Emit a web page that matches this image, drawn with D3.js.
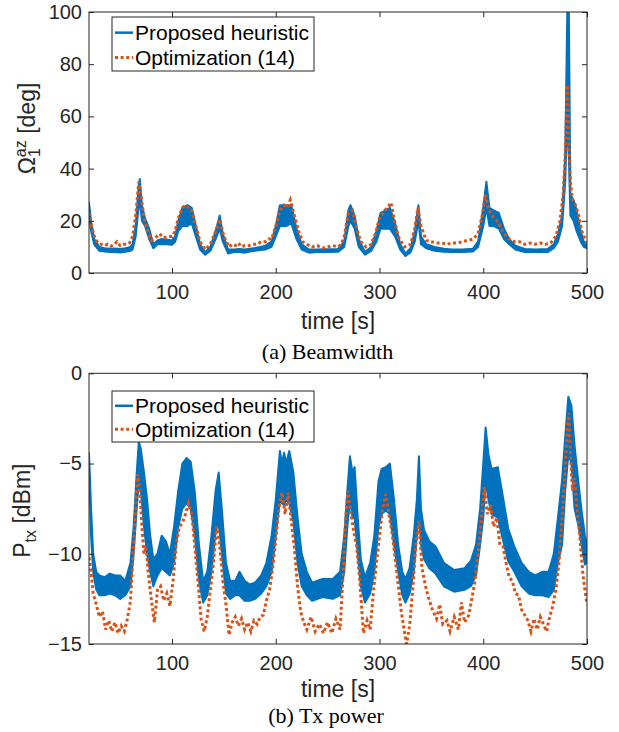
<!DOCTYPE html>
<html><head><meta charset="utf-8">
<script src="https://cdn.jsdelivr.net/npm/d3@7"></script>
<style>body{margin:0;background:#fff} svg{display:block}</style>
</head><body>
<svg id="chart" width="619" height="732"></svg>
<script>
// ---------------- data ----------------
const xTickValues = [100, 200, 300, 400, 500];
const beamYTicks = [0, 20, 40, 60, 80, 100];
const powerYTicks = [0, -5, -10, -15];
const seriesNames = ["Proposed heuristic", "Optimization (14)"];
const captions = ["(a) Beamwidth", "(b) Tx power"];

// Beamwidth, heuristic: [time, upper envelope, lower envelope]
const beamHeuristic = [
[20,27,22],[22,20,16],[25,13,11],[30,10,8.5],[35,9.5,8.2],[40,9.3,8],[45,9.4,8],[50,9.2,7.9],[55,9.5,8.1],[60,10,8.5],
[62,11,9],[65,18,14],[68,34,26],[69,36,28],[71,26,20],[74,21,18],[78,17,13],[82,11,9.5],[86,12.5,11],[90,13,11],
[95,12.8,11],[100,12.5,10.8],[103,14,12],[106,20,16],[110,25,18],[115,26,18],[119,25,19],[123,18,14],[127,11,9],[132,8,7],
[137,10,8.5],[142,16,13],[146,22,17],[149,15,12],[154,9,7.5],[160,9,8],[165,9.2,8],[170,9,7.8],[175,9.3,8.2],[180,9.6,8.5],
[185,10,8.8],[190,10.5,9],[196,12,10],[200,18,14],[204,26,18],[210,26,18],[215,26,19],[220,17,13],[225,11,9],[232,9,7.8],
[240,9,8],[250,9.1,8],[260,9.2,8.1],[266,12,10],[270,24,18],[272,26,20],[276,22,17],[280,13,10],[286,8,7],[292,10,8.5],
[297,16,12],[301,23,17],[306,24,17],[310,25,17],[315,19,14],[320,11,9],[325,7.5,6.5],[330,9.5,8],[334,16,12],[337.5,26,20],
[340,14,11],[345,11,9.5],[353,10,8.5],[362,9.3,8.1],[370,9,8],[380,9,8],[390,9.3,8.2],[395,12,10],[400,25,18],[403,35,25],
[406,25,18],[410,24,18],[415,23,17],[420,17,13],[425,13,11],[431,10.5,9],[440,9.2,8],[450,9,8],[462,9.2,8],[468,11,9.5],
[472,15,12],[476,22,18],[479,45,35],[481,100,60],[482.5,100,45],[484,30,22],[487,28,20],[490,24,16],[494,16,12],[497,12,10],[500,10.5,9.5]
];
// Beamwidth, optimization (14): [time, value]
const beamOptimization = [
[20,23],[23,17],[26,13],[29,11.5],[32,11],[35,10.5],[38,11],[41,10.3],[44,10.8],[47,12],[50,10.5],[53,11],[56,11],[59,11.5],
[62,14],[65,22],[68,35],[70,30],[73,21],[76,17],[80,12.5],[84,13.5],[88,15],[92,13.5],[96,14],[100,14],[103,16],[106,21],
[110,25],[113,26],[116,25],[119,24],[123,18],[127,12],[132,9],[137,11],[142,16],[146,20.5],[150,14],[155,10],[158,11],[161,10.5],
[164,11.5],[167,10],[170,10.5],[174,10.5],[178,11],[182,11],[186,12],[190,12],[193,13],[196,13],[200,18],[204,24],[208,26],[211,25],
[214,28],[218,22],[222,16],[226,12],[230,11],[235,10],[240,10.5],[245,9.5],[250,10],[255,10.5],[260,10],[263,11],[266,14],[270,23],
[274,24],[278,17],[282,12],[287,10],[292,11],[296,15],[300,21],[305,24],[308,25],[311,27],[314,21],[318,14],[324,10],[330,11],
[334,17],[337,25],[340,18],[345,12.5],[350,12],[355,11.5],[360,11.5],[365,11],[370,11.5],[375,11.5],[380,12],[385,12.5],[390,13],
[395,15],[399,22],[402,30],[405,25],[408,22],[411,21],[415,19],[420,15],[425,13],[430,12],[435,12],[440,11],[445,11.5],[450,11],
[455,11.5],[460,11],[465,11.5],[470,14],[474,20],[477,30],[479,45],[481,72],[482.5,50],[484,35],[486,28],[489,26],[492,22],[495,16],
[498,13],[500,11]
];
// Tx power, heuristic: [time, upper envelope, lower envelope]
const powerHeuristic = [
[20,-4.4,-5.2],[22,-7.5,-9],[24,-10,-11],[27,-11,-12],[30,-11.2,-12.3],[35,-11.3,-12.3],[40,-11.1,-12.2],[45,-11.2,-12.3],[50,-11.2,-12.5],
[55,-11.5,-12.3],[60,-10.5,-11.8],[63,-8.5,-10],[66,-5.5,-7.5],[68,-3.8,-6],[70,-4.2,-6.5],[73,-5.5,-8.5],[76,-7,-10],[79,-9,-11],
[82,-10.3,-11.8],[86,-10,-11.2],[90,-9,-10.8],[94,-9.3,-11],[98,-10,-11.2],[102,-8.5,-10.5],[106,-6.5,-8.5],[110,-5,-7.5],[114,-4.7,-7.2],
[118,-4.9,-7.5],[122,-6.6,-9],[126,-9.5,-11.5],[130,-11.5,-12.7],[134,-11,-12.3],[138,-9,-11],[142,-6.5,-8.8],[145,-5.5,-8.3],[148,-7.5,-10],
[152,-10.5,-12.2],[156,-11.5,-12.5],[161,-11.5,-12.3],[165,-11,-12.3],[170,-11.5,-12.6],[175,-11.7,-12.6],[180,-11.6,-12.5],[186,-11.2,-12.2],
[191,-10.5,-11.8],[196,-9,-11],[200,-7,-9],[204,-4.3,-7],[206,-5,-7.2],[208,-4.4,-7.3],[210,-5,-7],[213,-4.3,-7.2],[217,-5.5,-8.2],
[221,-8,-10.5],[225,-10,-11.8],[230,-11,-12.3],[235,-11.6,-12.6],[245,-11.4,-12.4],[255,-11.4,-12.5],[262,-11,-12.3],[266,-9,-11],
[269,-6.5,-8.5],[271.5,-4.6,-7],[274,-5.5,-8],[276,-5.2,-8],[279,-8,-10],[282,-10.3,-11.8],[286,-11.3,-12.7],[291,-10.5,-12.2],[295,-9,-11],
[299,-6,-8.5],[302,-5.3,-7.8],[306,-5.2,-7.6],[310,-5,-7.8],[314,-7,-9.5],[318,-9.5,-11],[322,-11,-12.3],[325,-11.4,-12.7],[329,-10.8,-12.2],
[333,-9,-11],[336,-7,-9],[338,-4.6,-7.5],[340,-7.5,-9.5],[343,-8.7,-10.3],[348,-9.3,-10.8],[354,-9.6,-11.1],[362,-10.5,-11.8],[372,-10.9,-12.1],
[382,-10.8,-12],[388,-10.4,-11.8],[393,-9.5,-11.2],[397,-7.5,-9.5],[400,-5,-8],[402.3,-3,-6],[405,-4.5,-7],[408,-5.3,-7.8],[414,-5.2,-8],
[418,-6.5,-9],[424,-8.6,-10.4],[430,-9.6,-11],[437,-10.5,-11.8],[444,-11,-12.2],[450,-11.2,-12.3],[457,-11,-12.3],[463,-11,-12.4],[468,-10,-12],
[472,-8,-10.5],[476,-5.9,-9.5],[479,-3.5,-6.5],[482,-1.3,-4.5],[485,-1.8,-5],[488,-4,-7.5],[492,-6.2,-8.5],[495,-7.7,-9.6],[498,-9,-10.6],[500,-9.5,-10.5]
];
// Tx power, optimization (14): [time, value]
const powerOptimization = [
[20,-10.2],[22,-11],[24,-12.2],[27,-12.8],[30,-13.5],[33,-13.2],[36,-14.2],[39,-13.7],[42,-14.3],[45,-13.8],[48,-14.4],[51,-14],[54,-14.3],
[57,-13.6],[60,-12.6],[63,-9.5],[65,-7.5],[67,-5.6],[69,-6.5],[71,-8.5],[73,-10],[75,-9.6],[77,-11],[80,-12.5],[83,-13.8],[86,-12],[89,-11.8],
[92,-12.6],[95,-12.2],[98,-12.9],[101,-11.5],[104,-9.5],[107,-8.5],[110,-8.3],[113,-7.8],[116,-7.2],[119,-7.8],[122,-9.6],[125,-11.5],[128,-13.6],
[131,-14.3],[134,-13.5],[137,-12],[140,-10.5],[143,-8.5],[146,-9.5],[149,-11.5],[152,-12.8],[155,-14.5],[158,-13.8],[161,-13.5],[164,-14],
[167,-13.6],[170,-14.2],[173,-13.8],[176,-14.3],[179,-13.7],[182,-13.9],[185,-13.5],[188,-13.4],[191,-12.6],[194,-12],[197,-10.8],[200,-9.2],
[203,-7.5],[206,-6.6],[209,-7.8],[212,-6.6],[215,-8.2],[218,-9.7],[221,-11.8],[224,-13.2],[227,-13.8],[230,-14.2],[234,-13.5],[238,-14.3],
[242,-13.9],[246,-14.4],[250,-13.8],[254,-14.4],[258,-13.6],[262,-14.2],[265,-11],[267.5,-8],[269.5,-6.5],[272,-7.6],[275,-8.7],[278,-9.6],
[281,-11.5],[284.5,-14.4],[288,-13.7],[291,-14.2],[294,-12.2],[297,-10.5],[300,-9],[303,-7.5],[306,-6.7],[309,-7.8],[312,-8.8],[315,-10.2],
[318,-11.7],[321,-13.2],[324,-14.3],[326,-15],[329,-14],[332,-12],[335,-9.5],[338,-8.2],[341,-10.8],[344,-11.7],[347,-12.4],[351,-13.1],
[355,-13.6],[358,-12.8],[361,-13.9],[365,-13.7],[368,-14.3],[372,-13.5],[376,-14.2],[379,-12.7],[382,-13.8],[386,-13.4],[389,-12.5],[392,-11.5],
[395,-10],[398,-8.2],[401,-6.3],[404,-7.8],[407,-7.3],[410,-8.5],[413,-8],[416,-9.5],[419,-9.6],[422,-10.5],[425,-11.3],[428,-11.5],[431,-12.2],
[434,-12.3],[437,-13.1],[440,-13.4],[443,-13.7],[446,-14.3],[449,-13.6],[452,-14.2],[455,-13.5],[458,-13.9],[461,-14.3],[464,-13.5],[467,-12.9],
[470,-12],[473,-10.5],[476,-8],[479,-5.3],[481,-3],[482.5,-2.2],[484,-4.5],[486,-6.5],[488,-5.8],[490,-7.3],[493,-9],[496,-11.1],[498,-12],[500,-12.8]
];

// ---------------- drawing ----------------
const BLUE = "#0072BD", ORANGE = "#D95319", AXIS = "#262626";
const SANS = "'Liberation Sans', Arial, Helvetica, sans-serif";
const SERIF = "'Liberation Serif', 'Times New Roman', Times, serif";
const svg = d3.select("#chart");
const L = 89, R = 587;

function panel(cfg) {
  const {id, top, bottom, yDomain, yTicks, heur, opt, legend, ylab, caption, captionX, captionY, xlabelY} = cfg;
  const x = d3.scaleLinear().domain([20, 500]).range([L, R]);
  const y = d3.scaleLinear().domain(yDomain).range([bottom, top]);
  const g = svg.append("g");

  g.append("clipPath").attr("id", id).append("rect")
    .attr("x", L).attr("y", top).attr("width", R - L).attr("height", bottom - top);

  const plot = g.append("g").attr("clip-path", `url(#${id})`);
  plot.append("path").datum(heur)
    .attr("d", d3.area().x(d => x(d[0])).y0(d => y(d[2])).y1(d => y(d[1])))
    .attr("fill", BLUE).attr("stroke", BLUE).attr("stroke-width", 2).attr("stroke-linejoin", "round");
  plot.append("path").datum(opt)
    .attr("d", d3.line().x(d => x(d[0])).y(d => y(d[1])))
    .attr("fill", "none").attr("stroke", ORANGE).attr("stroke-width", 3)
    .attr("stroke-dasharray", "3,2.6");

  const styleAxis = sel => {
    sel.select(".domain").remove();
    sel.selectAll("line").attr("stroke", AXIS).attr("stroke-width", 1);
    sel.selectAll("text").attr("fill", AXIS).style("font-family", SANS).style("font-size", "20px");
  };
  g.append("g").attr("transform", `translate(0,${bottom})`)
    .call(d3.axisBottom(x).tickValues(xTickValues).tickSize(-5).tickPadding(12)).call(styleAxis);
  g.append("g").attr("transform", `translate(0,${top})`)
    .call(d3.axisTop(x).tickValues(xTickValues).tickSize(-5).tickFormat("")).call(styleAxis);
  g.append("g").attr("transform", `translate(${L},0)`)
    .call(d3.axisLeft(y).tickValues(yTicks).tickSize(-5).tickPadding(7).tickFormat(d3.format("d"))).call(styleAxis);
  g.append("g").attr("transform", `translate(${R},0)`)
    .call(d3.axisRight(y).tickValues(yTicks).tickSize(-5).tickFormat("")).call(styleAxis);
  g.append("rect").attr("x", L).attr("y", top).attr("width", R - L).attr("height", bottom - top)
    .attr("fill", "none").attr("stroke", AXIS).attr("stroke-width", 1);

  // x label
  g.append("text").attr("x", (L + R) / 2).attr("y", xlabelY)
    .attr("text-anchor", "middle").attr("fill", AXIS)
    .style("font-family", SANS).style("font-size", "23px").text("time [s]");

  // y label
  ylab(g, bottom, top);

  // caption
  g.append("text").attr("x", captionX).attr("y", captionY)
    .attr("text-anchor", "middle").attr("fill", "#000")
    .style("font-family", SERIF).style("font-size", "22px").text(caption);

  // legend
  const lg = g.append("g");
  lg.append("rect").attr("x", legend.x).attr("y", legend.y).attr("width", legend.w).attr("height", legend.h)
    .attr("fill", "#fff").attr("stroke", AXIS).attr("stroke-width", 1);
  const rowY = [legend.y + legend.h * 0.29, legend.y + legend.h * 0.75];
  seriesNames.forEach((name, i) => {
    lg.append("line").attr("x1", legend.x + 3).attr("x2", legend.x + 21)
      .attr("y1", rowY[i]).attr("y2", rowY[i])
      .attr("stroke", i === 0 ? BLUE : ORANGE).attr("stroke-width", i === 0 ? 2.5 : 3)
      .attr("stroke-dasharray", i === 0 ? null : "3,2.6");
    lg.append("text").attr("x", legend.x + 23).attr("y", rowY[i] + 7.5)
      .attr("fill", "#000").style("font-family", SANS).style("font-size", "21px").text(name);
  });
}

panel({
  id: "clipA", top: 12, bottom: 273, yDomain: [0, 100], yTicks: beamYTicks,
  heur: beamHeuristic, opt: beamOptimization,
  legend: {x: 112, y: 17, w: 202, h: 54},
  caption: captions[0], captionX: 327.5, captionY: 359, xlabelY: 329,
  ylab: (g, b, t) => {
    const txt = g.append("text").attr("transform", `translate(35,${(b + t) / 2 - 14}) rotate(-90)`)
      .attr("text-anchor", "middle").attr("fill", AXIS).style("font-family", SANS).style("font-size", "23px");
    txt.append("tspan").text("Ω");
    txt.append("tspan").attr("dy", -9).style("font-size", "16px").text("az");
    txt.append("tspan").attr("dx", -16.9).attr("dy", 14).style("font-size", "16px").text("1");
    txt.append("tspan").attr("dx", 8).attr("dy", -5).text(" [deg]");
  }
});

panel({
  id: "clipB", top: 373.3, bottom: 644, yDomain: [-15, 0], yTicks: powerYTicks,
  heur: powerHeuristic, opt: powerOptimization,
  legend: {x: 112, y: 391, w: 202, h: 51},
  caption: captions[1], captionX: 326, captionY: 723, xlabelY: 697,
  ylab: (g, b, t) => {
    const txt = g.append("text").attr("transform", `translate(30,${(b + t) / 2 + 2}) rotate(-90)`)
      .attr("text-anchor", "middle").attr("fill", AXIS).style("font-family", SANS).style("font-size", "23px");
    txt.append("tspan").text("P");
    txt.append("tspan").attr("dy", 6).style("font-size", "16px").text("tx");
    txt.append("tspan").attr("dy", -6).text(" [dBm]");
  }
});
</script>
</body></html>
